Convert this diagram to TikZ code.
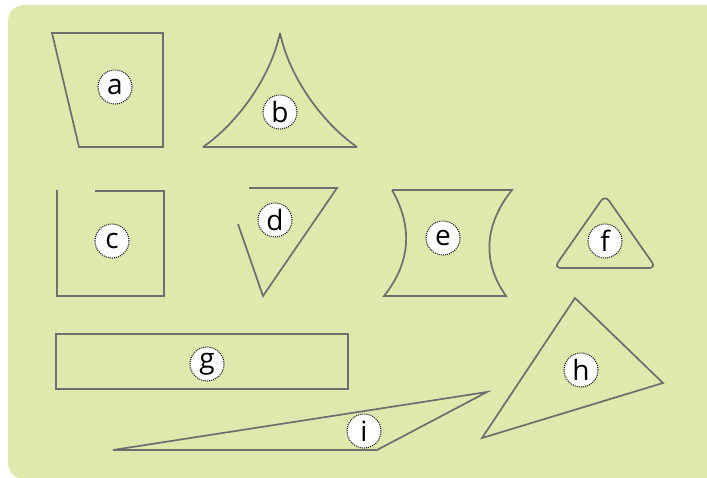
\documentclass[tikz,border=0pt]{standalone}
\usepackage{fontspec}
\setmainfont{Open Sans}
\definecolor{bggreen}{RGB}{223,232,173}
\definecolor{edgegray}{RGB}{110,110,110}
\tikzset{
  shape line/.style={draw=edgegray, line width=1.7pt, line join=miter},
  lbl/.style={circle, fill=white, draw=black!85, densely dotted, line width=1.1pt,
    minimum size=34pt, inner sep=0pt, font=\fontsize{28}{28}\selectfont}
}
\begin{document}
\begin{tikzpicture}[x=1pt, y=-1pt]
        % Page and background
        \useasboundingbox (0,0) rectangle (707,477);
        \clip (0,0) rectangle (707,477);
        \fill[bggreen, rounded corners=16pt] (8,5) rectangle (740,479);

        % Shape a (trapezium)
        \draw[shape line] (52,33) -- (163,33) -- (163,147) -- (79,147) -- cycle;
        \node[lbl] (la) at (115,87) {a};

        % Shape b (curved triangle)
        \draw[shape line, line join=bevel] (280,33) .. controls (270,80) and (235,125) .. (203,147)
              -- (357,147) .. controls (325,125) and (290,80) .. (280,33);
        \node[lbl] (lb) at (280,112) {b};

        % Shape c (open square)
        \draw[shape line] (95,191) -- (164,191) -- (164,296) -- (57,296) -- (57,190);
        \node[lbl] (lc) at (112,241) {c};

        % Shape d (open triangle)
        \draw[shape line] (249,188) -- (337,188) -- (263,296) -- (238,224);
        \node[lbl] (ld) at (275,220) {d};

        % Shape e (curved sides)
        \draw[shape line] (392,190) -- (512,190) .. controls (484,225) and (482,262) .. (506,296)
              -- (384,296) .. controls (412,261) and (412,225) .. (392,190);
        \node[lbl] (le) at (443,238) {e};

        % Shape f (rounded triangle)
        \draw[shape line, rounded corners=7pt] (605,195) -- (656,268) -- (554,268) -- cycle;
        \node[lbl] (lf) at (605,241) {f};

        % Shape g (rectangle)
        \draw[shape line] (56,334) rectangle (348,389);
        \node[lbl] (lg) at (207,364) {g};

        % Shape h (triangle)
        \draw[shape line] (575,298) -- (663,383) -- (482,438) -- cycle;
        \node[lbl] (lh) at (581,370) {h};

        % Shape i (flat triangle)
        \draw[shape line] (113,450) -- (487,392) -- (377,450) -- cycle;
        \node[lbl] (li) at (364,431) {i};
    \end{tikzpicture}
\end{document}
